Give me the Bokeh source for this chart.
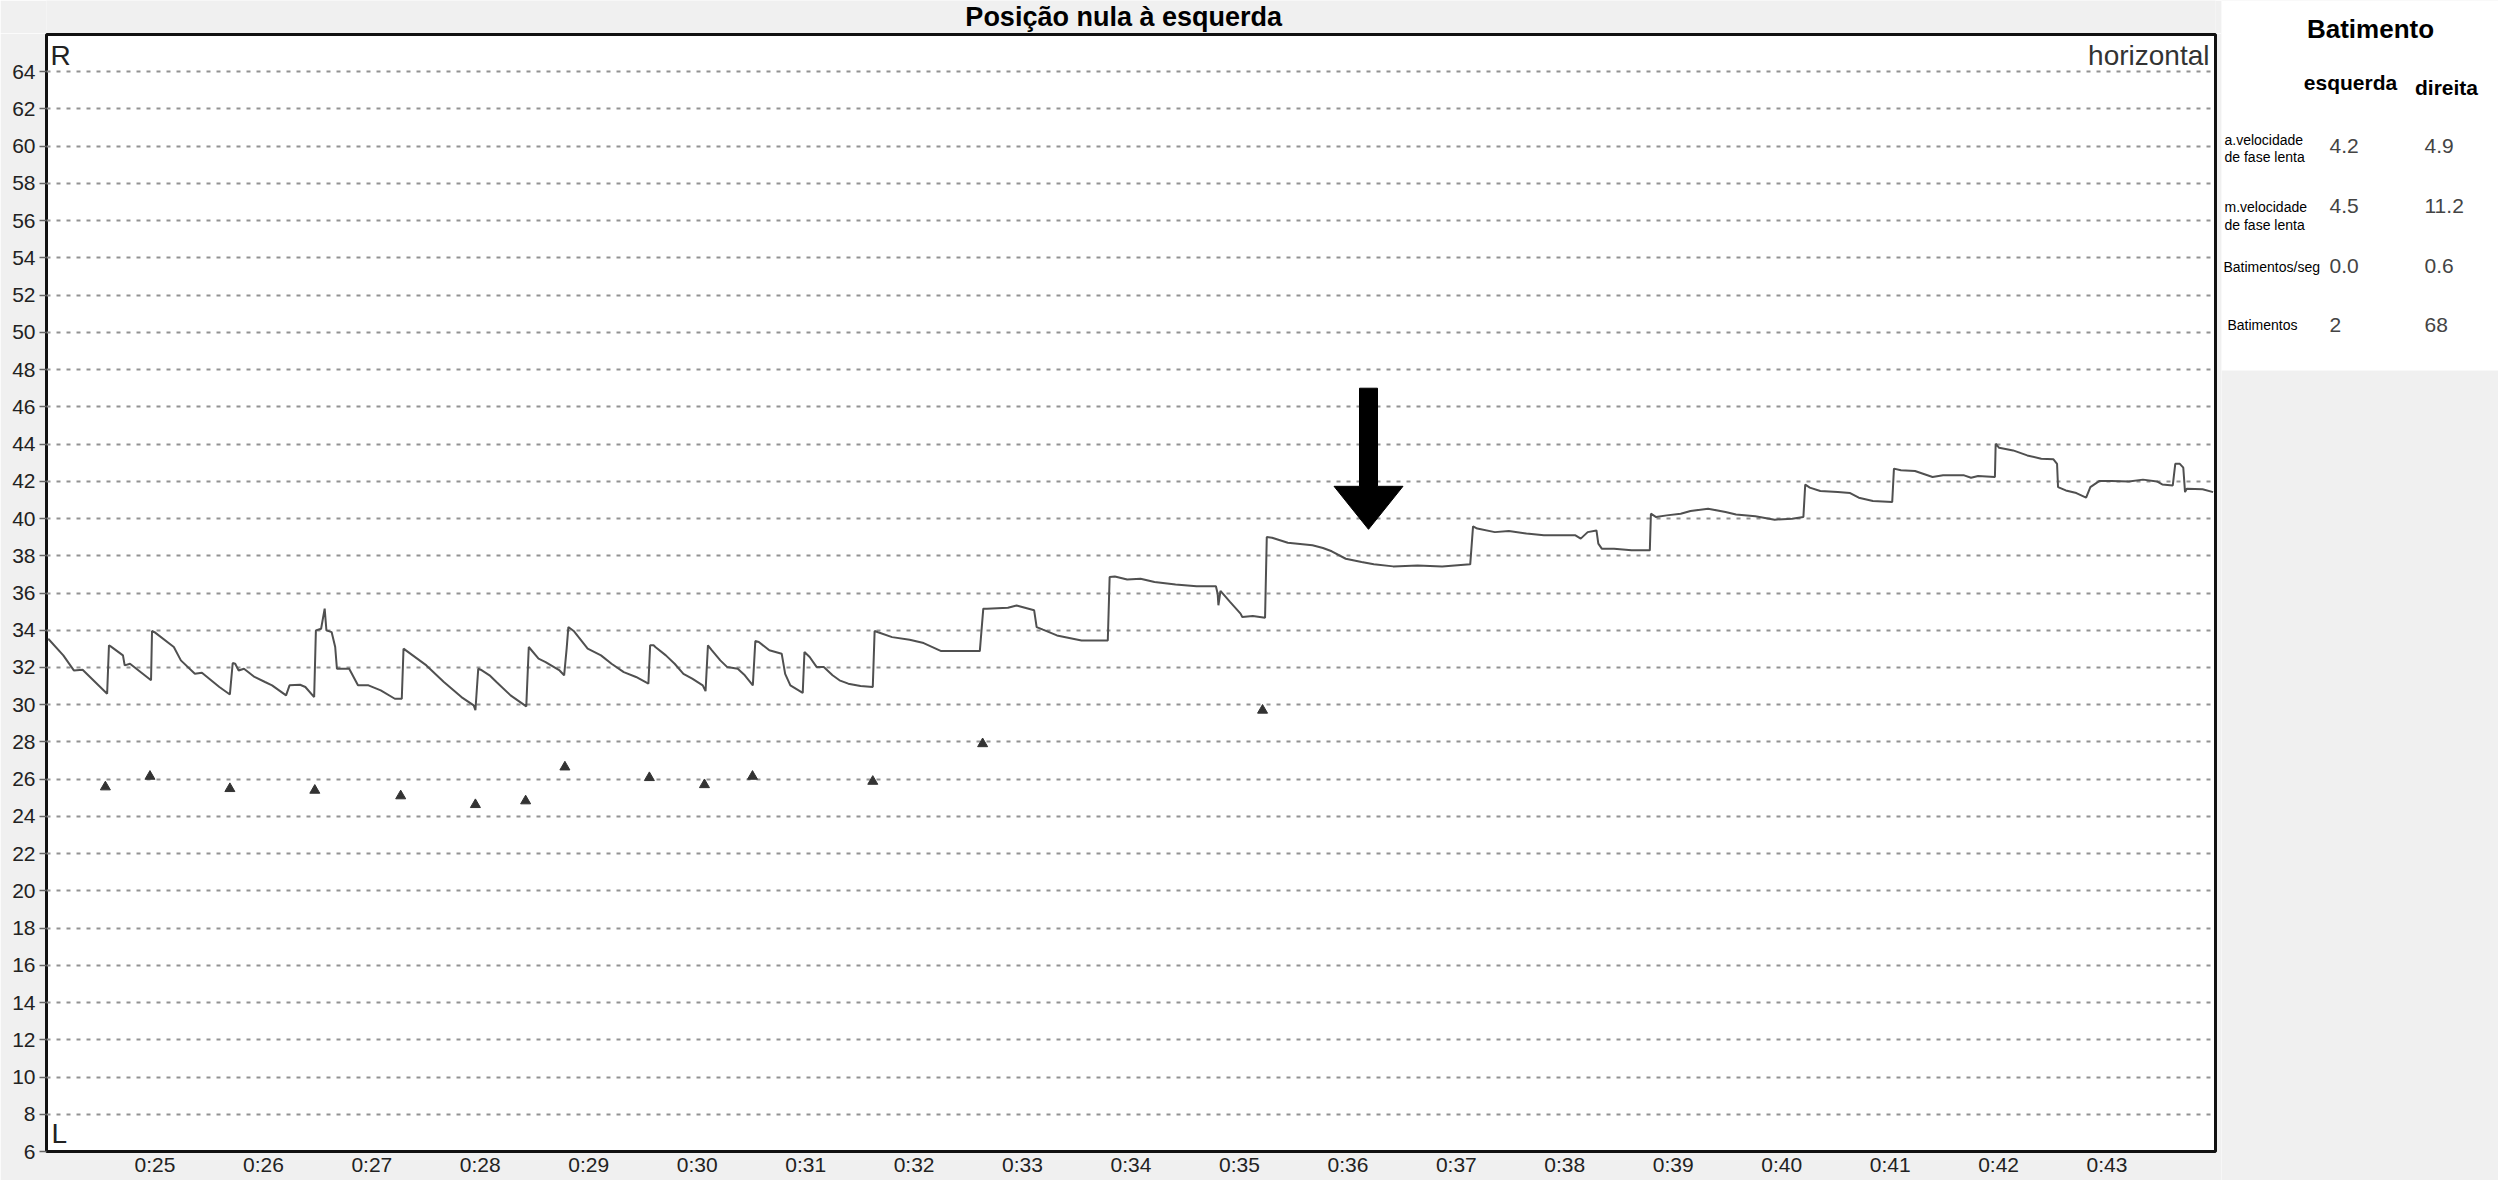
from bokeh.plotting import figure
from bokeh.models import Range1d, FixedTicker, Label
from bokeh.layouts import row, column
from bokeh.embed import file_html
from bokeh.resources import INLINE
from bokeh.core.properties import value

FONT = "Liberation Sans"

TITLE = "Posição nula à esquerda"

# eye position trace (time in s, position in deg)
time_s = [
    24.016, 24.155, 24.252, 24.333, 24.559, 24.576, 24.592, 24.705, 24.721, 24.770,
    24.964, 24.973, 24.996, 25.174, 25.239, 25.368, 25.433, 25.594, 25.691, 25.717,
    25.740, 25.772, 25.821, 25.918, 26.015, 26.080, 26.209, 26.241, 26.338, 26.387,
    26.468, 26.484, 26.532, 26.565, 26.581, 26.629, 26.662, 26.678, 26.791, 26.872,
    26.969, 27.082, 27.212, 27.276, 27.292, 27.503, 27.664, 27.826, 27.939, 27.955,
    27.981, 28.004, 28.085, 28.149, 28.279, 28.424, 28.447, 28.537, 28.602, 28.731,
    28.773, 28.796, 28.812, 28.861, 28.990,
    29.113, 29.210, 29.323, 29.436, 29.550, 29.566, 29.598, 29.614, 29.711, 29.792,
    29.873, 29.954, 30.051, 30.077, 30.099, 30.132, 30.213, 30.277, 30.374, 30.439,
    30.513, 30.536, 30.568, 30.665, 30.779, 30.811, 30.859, 30.973, 30.989, 31.037,
    31.102, 31.167, 31.248, 31.312, 31.393, 31.506, 31.619, 31.636, 31.668, 31.797,
    31.959, 32.088, 32.250, 32.379, 32.606, 32.638, 32.671, 32.865, 32.945, 33.107,
    33.130, 33.188, 33.317, 33.544, 33.786, 33.803, 33.851, 33.965, 34.088,
    34.217, 34.411, 34.605, 34.783, 34.799, 34.806, 34.825, 34.913, 35.010, 35.026,
    35.123, 35.236, 35.252, 35.301, 35.446, 35.673, 35.770, 35.851, 35.980, 36.126,
    36.239, 36.417, 36.643, 36.869, 37.128, 37.154, 37.193, 37.355, 37.484, 37.646,
    37.807, 38.098, 38.147, 38.211, 38.292, 38.309, 38.341, 38.454, 38.616, 38.784,
    38.794, 38.842, 38.939, 39.069, 39.159,
    39.321, 39.482, 39.579, 39.757, 39.935, 40.097, 40.200, 40.217, 40.259, 40.356,
    40.517, 40.631, 40.711, 40.841, 41.019, 41.035, 41.099, 41.229, 41.391, 41.488,
    41.682, 41.746, 41.811, 41.966, 41.973, 42.005, 42.134, 42.264, 42.393, 42.506,
    42.539, 42.548, 42.620, 42.717, 42.807, 42.846, 42.927, 43.040, 43.202, 43.331,
    43.460, 43.509, 43.606, 43.629, 43.671, 43.703, 43.719, 43.735, 43.881, 43.978,
]
position_deg = [
    33.54, 32.65, 31.84, 31.88, 30.59, 33.19, 33.13, 32.65, 32.11, 32.20,
    31.31, 33.96, 33.90, 33.10, 32.38, 31.66, 31.72, 30.95, 30.55, 32.24,
    32.20, 31.84, 31.93, 31.49, 31.22, 31.04, 30.50, 31.04, 31.07, 30.95,
    30.41, 33.99, 34.08, 35.16, 33.99, 33.90, 33.10, 31.93, 31.93, 31.04,
    31.04, 30.77, 30.32, 30.32, 33.01, 32.11, 31.22, 30.41, 29.96, 29.70,
    31.93, 31.88, 31.58, 31.22, 30.50, 29.91, 33.10, 32.47, 32.29, 31.84,
    31.58, 33.00, 34.17, 33.96, 33.01,
    32.65, 32.20, 31.75, 31.49, 31.13, 33.19, 33.19, 33.10, 32.65, 32.20,
    31.66, 31.40, 31.04, 30.73, 33.19, 32.95, 32.38, 32.02, 31.93, 31.58,
    31.04, 33.42, 33.37, 32.92, 32.74, 31.66, 31.04, 30.63, 32.83, 32.56,
    32.02, 32.02, 31.58, 31.31, 31.13, 31.00, 30.95, 33.96, 33.89, 33.63,
    33.49, 33.31, 32.88, 32.88, 32.88, 35.16, 35.16, 35.21, 35.33, 35.07,
    34.17, 34.03, 33.72, 33.45, 33.45, 36.86, 36.89, 36.73, 36.77,
    36.59, 36.46, 36.36, 36.36, 35.96, 35.34, 36.11, 35.52, 34.89, 34.71,
    34.76, 34.67, 39.01, 38.97, 38.70, 38.56, 38.42, 38.24, 37.84, 37.66,
    37.54, 37.43, 37.48, 37.43, 37.54, 39.58, 39.46, 39.27, 39.33, 39.19,
    39.10, 39.10, 38.92, 39.27, 39.36, 38.65, 38.38, 38.38, 38.29, 38.29,
    40.26, 40.08, 40.17, 40.26, 40.40,
    40.53, 40.35, 40.22, 40.12, 39.94, 39.99, 40.08, 41.83, 41.66, 41.48,
    41.42, 41.37, 41.12, 40.94, 40.89, 42.68, 42.59, 42.55, 42.23, 42.32,
    42.32, 42.19, 42.28, 42.23, 44.02, 43.80, 43.66, 43.39, 43.21, 43.18,
    42.94, 41.69, 41.51, 41.37, 41.12, 41.69, 42.01, 42.01, 41.99, 42.09,
    41.99, 41.83, 41.78, 42.94, 42.94, 42.73, 41.42, 41.60, 41.57, 41.42,
]

# detected beats (triangles)
beat_time_s = [24.543, 24.954, 25.691, 26.474, 27.266, 27.955, 28.418, 28.780,
               29.559, 30.067, 30.510, 31.619, 32.632, 35.213]
beat_position_deg = [25.58, 26.15, 25.49, 25.40, 25.10, 24.63, 24.83, 26.65,
                     26.08, 25.70, 26.15, 25.88, 27.90, 29.70]

Y_TICKS = [6, 8, 10, 12, 14, 16, 18, 20, 22, 24, 26, 28, 30, 32, 34, 36, 38, 40,
           42, 44, 46, 48, 50, 52, 54, 56, 58, 60, 62, 64]
X_TICKS = [25, 26, 27, 28, 29, 30, 31, 32, 33, 34, 35, 36, 37, 38, 39, 40, 41, 42, 43]
X_TICK_LABELS = ["0:25", "0:26", "0:27", "0:28", "0:29", "0:30", "0:31", "0:32",
                 "0:33", "0:34", "0:35", "0:36", "0:37", "0:38", "0:39", "0:40",
                 "0:41", "0:42", "0:43"]

# summary table
TABLE_TITLE = "Batimento"
TABLE_COLS = ["esquerda", "direita"]
TABLE_ROW_LINES = [["a.velocidade", "de fase lenta"], ["m.velocidade", "de fase lenta"],
                   ["Batimentos/seg"], ["Batimentos"]]
TABLE_LEFT = ["4.2", "4.5", "0.0", "2"]
TABLE_RIGHT = ["4.9", "11.2", "0.6", "68"]

# annotation arrow (data coordinates)
ARROW_X = 36.19
ARROW_TAIL_Y = 47.0
ARROW_BASE_Y = 41.73
ARROW_TIP_Y = 39.42
ARROW_SHAFT_HALF = 0.083
ARROW_HEAD_HALF = 0.318

BG = "#f0f0f0"

# ---------------- title strip ----------------
pt = figure(width=2221, height=33, x_range=Range1d(0, 2221), y_range=Range1d(33, 0),
            output_backend="svg", toolbar_location=None, title=None, min_border=0,
            x_axis_location=None, y_axis_location=None,
            background_fill_color=BG, border_fill_color=BG, outline_line_color=None)
pt.grid.visible = False
pt.text(x=[1103], y=[16], text=[TITLE], text_font=value(FONT), text_font_size="27px",
        text_font_style="bold", text_align="center", text_baseline="middle",
        text_color="black")

# ---------------- main chart ----------------
p = figure(width=2221, height=1147, x_range=Range1d(24, 44), y_range=Range1d(6, 66),
           output_backend="svg", toolbar_location=None, title=None,
           min_border_left=46, min_border_right=6, min_border_top=1, min_border_bottom=29,
           background_fill_color="white", border_fill_color=BG,
           outline_line_color="#111111", outline_line_width=3)

p.xgrid.visible = False
p.ygrid.ticker = FixedTicker(ticks=Y_TICKS)
p.ygrid.grid_line_color = "#929292"
p.ygrid.grid_line_width = 2
p.ygrid.grid_line_dash = "4 6"

p.yaxis.ticker = FixedTicker(ticks=Y_TICKS)
p.yaxis.axis_line_color = None
p.yaxis.major_tick_out = 7
p.yaxis.major_tick_in = 0
p.yaxis.major_tick_line_color = "#666666"
p.yaxis.major_tick_line_width = 1.5
p.yaxis.minor_tick_line_color = None
p.yaxis.major_label_standoff = 4
p.yaxis.major_label_text_font = FONT
p.yaxis.major_label_text_font_size = "21px"
p.yaxis.major_label_text_color = "#222222"

p.xaxis.ticker = FixedTicker(ticks=X_TICKS)
p.xaxis.major_label_overrides = {t: lab for t, lab in zip(X_TICKS, X_TICK_LABELS)}
p.xaxis.axis_line_color = None
p.xaxis.major_tick_out = 0
p.xaxis.major_tick_in = 0
p.xaxis.major_tick_line_color = None
p.xaxis.minor_tick_line_color = None
p.xaxis.major_label_standoff = 1
p.xaxis.major_label_text_font = FONT
p.xaxis.major_label_text_font_size = "21px"
p.xaxis.major_label_text_color = "#222222"

p.line(time_s, position_deg, line_color="#505050", line_width=2)
p.scatter(beat_time_s, beat_position_deg, marker="triangle", size=10,
          fill_color="#333333", line_color="#333333")

ax = ARROW_X
arrow_xs = [ax - ARROW_SHAFT_HALF, ax + ARROW_SHAFT_HALF, ax + ARROW_SHAFT_HALF,
            ax + ARROW_HEAD_HALF, ax, ax - ARROW_HEAD_HALF, ax - ARROW_SHAFT_HALF]
arrow_ys = [ARROW_TAIL_Y, ARROW_TAIL_Y, ARROW_BASE_Y, ARROW_BASE_Y, ARROW_TIP_Y,
            ARROW_BASE_Y, ARROW_BASE_Y]
p.patch(arrow_xs, arrow_ys, fill_color="black", line_color="black", line_width=1)

p.add_layout(Label(x=24, y=66, x_offset=4, y_offset=-21, text="R", text_font=FONT,
                   text_font_size="28px", text_color="#222222", text_baseline="middle"))
p.add_layout(Label(x=24, y=6, x_offset=5, y_offset=18.5, text="L", text_font=FONT,
                   text_font_size="28px", text_color="#222222", text_baseline="middle"))
p.add_layout(Label(x=44, y=66, x_offset=-6, y_offset=-21, text="horizontal", text_font=FONT,
                   text_font_size="28px", text_color="#333333", text_align="right",
                   text_baseline="middle"))

# ---------------- summary panel ----------------
p2 = figure(width=277, height=1180, x_range=Range1d(2221, 2498), y_range=Range1d(1180, 0),
            output_backend="svg", toolbar_location=None, title=None, min_border=0,
            x_axis_location=None, y_axis_location=None,
            background_fill_color=BG, border_fill_color=BG, outline_line_color=None)
p2.grid.visible = False

p2.quad(left=[2221], right=[2498], top=[0], bottom=[370], fill_color="white", line_color=None)

p2.text(x=[2370], y=[28.6], text=[TABLE_TITLE], text_font=value(FONT), text_font_size="26px",
        text_font_style="bold", text_align="center", text_baseline="middle",
        text_color="black")
p2.text(x=[2350, 2446], y=[82, 87], text=TABLE_COLS, text_font=value(FONT),
        text_font_size="21px", text_font_style="bold", text_align="center",
        text_baseline="middle", text_color="black")

label_x = [2224, 2224, 2224, 2224, 2223, 2227]
label_y = [139, 156.7, 206.7, 224, 266.7, 324]
label_text = [line for lines in TABLE_ROW_LINES for line in lines]
p2.text(x=label_x, y=label_y, text=label_text, text_font=value(FONT), text_font_size="14px",
        text_align="left", text_baseline="middle", text_color="black")

value_y = [145.5, 205.2, 265.5, 324.2]
p2.text(x=[2329] * 4, y=value_y, text=TABLE_LEFT, text_font=value(FONT), text_font_size="21px",
        text_align="left", text_baseline="middle", text_color="#444444")
p2.text(x=[2424] * 4, y=value_y, text=TABLE_RIGHT, text_font=value(FONT), text_font_size="21px",
        text_align="left", text_baseline="middle", text_color="#444444")

layout = row(column(pt, p), p2)
open("out.html", "w").write(file_html(layout, INLINE))
